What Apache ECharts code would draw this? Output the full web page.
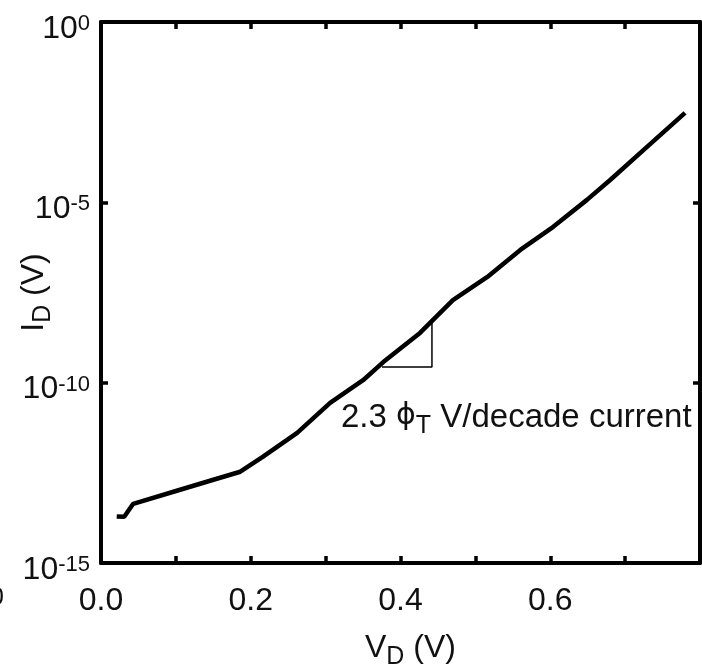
<!DOCTYPE html>
<html><head><meta charset="utf-8">
<script src="https://cdn.jsdelivr.net/npm/echarts@6/dist/echarts.min.js"></script>
<style>html,body{margin:0;padding:0;background:#fff}#c{width:702px;height:670px}</style>
</head><body><div id="c"></div>
<script>
// Diode forward characteristic
const vD = [0.021, 0.031, 0.043, 0.099, 0.149, 0.186, 0.216, 0.262, 0.306, 0.350, 0.377, 0.426, 0.470, 0.516, 0.560, 0.604, 0.649, 0.680, 0.730, 0.780];
const iD = [1.95e-14, 1.91e-14, 4.37e-14, 9.77e-14, 2.0e-13, 3.39e-13, 8.71e-13, 4.07e-12, 2.75e-11, 1.17e-10, 3.72e-10, 2.40e-9, 1.95e-8, 8.51e-8, 4.79e-7, 2.09e-6, 1.17e-5, 4.17e-5, 3.55e-4, 3.02e-3];
// slope triangle
const slopeV = [0.3753, 0.442, 0.442];
const slopeI = [2.72e-10, 2.72e-10, 4.52e-9];
// ticks
const xTicks = [0, 0.1, 0.2, 0.3, 0.4, 0.5, 0.6, 0.7, 0.8];
const xTickLabels = [0, 0.2, 0.4, 0.6];
const yTicks = [1e-10, 1e-5];
const yTickLabels = [1e-15, 1e-10, 1e-5, 1];

const FONT = "'Liberation Sans', Arial, sans-serif";
const INK = '#111';
const axisLine = {show: true, onZero: false, lineStyle: {color: '#000', width: 4}};
const tick = {show: true, inside: true, length: 7, lineStyle: {color: '#000', width: 3.5}};

const chart = echarts.init(document.getElementById('c'), null, {renderer: 'canvas'});
chart.setOption({
  animation: false,
  backgroundColor: '#fff',
  grid: {left: 101, right: 2, top: 22, bottom: 107, containLabel: false, outerBoundsMode: 'none'},
  xAxis: [{
    type: 'value', min: 0, max: 0.8, interval: 0.1, position: 'bottom',
    axisLine: axisLine, axisTick: Object.assign({customValues: xTicks}, tick), splitLine: {show: false},
    axisLabel: {customValues: xTickLabels, formatter: v => Number(v).toFixed(1), fontSize: 32, lineHeight: 32,
      fontFamily: FONT, color: INK, margin: 22},
    name: '{v|V}{d|D}{v| (V)}', nameLocation: 'middle', nameGap: 69, nameMoveOverlap: false,
    nameTextStyle: {fontFamily: FONT, color: INK, padding: [0, 0, 0, 20], rich: {
      v: {fontSize: 32, lineHeight: 32, verticalAlign: 'top', fontFamily: FONT, color: INK},
      d: {fontSize: 25, lineHeight: 25, verticalAlign: 'top', padding: [13, 0, 0, 0], fontFamily: FONT, color: INK}
    }}
  }, {
    type: 'value', min: 0, max: 0.8, interval: 0.1, position: 'top',
    axisLine: axisLine, axisTick: Object.assign({customValues: xTicks}, tick), splitLine: {show: false},
    axisLabel: {show: false}
  }],
  yAxis: [{
    type: 'log', logBase: 10, min: 1e-15, max: 1, position: 'left',
    axisLine: axisLine, axisTick: Object.assign({customValues: yTicks}, tick), splitLine: {show: false},
    minorTick: {show: false},
    axisLabel: {customValues: yTickLabels, margin: 11, padding: [14, 0, 0, 0],
      formatter: v => '{b|10}{s|' + Math.round(Math.log10(v)) + '}',
      rich: {
        b: {fontSize: 32, lineHeight: 32, verticalAlign: 'bottom', padding: [8, 0, 0, 0], fontFamily: FONT, color: INK},
        s: {fontSize: 22, lineHeight: 22, verticalAlign: 'top', fontFamily: FONT, color: INK}
      }},
    name: '{i|I}{d|D}{i| (V)}', nameLocation: 'middle', nameRotate: 90, nameGap: 51, nameMoveOverlap: false,
    nameTextStyle: {fontFamily: FONT, color: INK, rich: {
      i: {fontSize: 32, lineHeight: 32, verticalAlign: 'top', fontFamily: FONT, color: INK},
      d: {fontSize: 25, lineHeight: 25, verticalAlign: 'top', padding: [13, 0, 0, 0], fontFamily: FONT, color: INK}
    }}
  }, {
    type: 'log', logBase: 10, min: 1e-15, max: 1, position: 'right',
    axisLine: axisLine, axisTick: Object.assign({customValues: yTicks}, tick), splitLine: {show: false},
    minorTick: {show: false}, axisLabel: {show: false}
  }],
  series: [{
    type: 'line', xAxisIndex: 0, yAxisIndex: 0, showSymbol: false, symbol: 'none', smooth: false,
    lineStyle: {color: '#000', width: 4.5}, z: 3,
    data: vD.map((v, i) => [v, iD[i]])
  }, {
    type: 'line', xAxisIndex: 0, yAxisIndex: 0, showSymbol: false, symbol: 'none',
    lineStyle: {color: '#000', width: 1.5}, z: 2,
    data: slopeV.map((v, i) => [v, slopeI[i]])
  }],
  graphic: [{
    type: 'text', left: 341, top: 401, z: 10,
    style: {text: '{n|2.3 }{p|ϕ}{t|T}{n| V/decade current}', fontFamily: FONT, fill: INK,
      rich: {
        n: {fontSize: 33, lineHeight: 32, verticalAlign: 'top', fontFamily: FONT, fill: INK, color: INK},
        p: {fontSize: 30, lineHeight: 32, verticalAlign: 'top', fontFamily: "'DejaVu Sans', sans-serif", fill: INK, color: INK},
        t: {fontSize: 25, lineHeight: 25, verticalAlign: 'top', padding: [13, 0, 0, 0], fontFamily: FONT, fill: INK, color: INK}
      }}
  }, {
    type: 'text', right: 698, top: 585, z: 10,
    style: {text: '0', fontSize: 26, fontFamily: FONT, fill: INK}
  }]
});
</script></body></html>
